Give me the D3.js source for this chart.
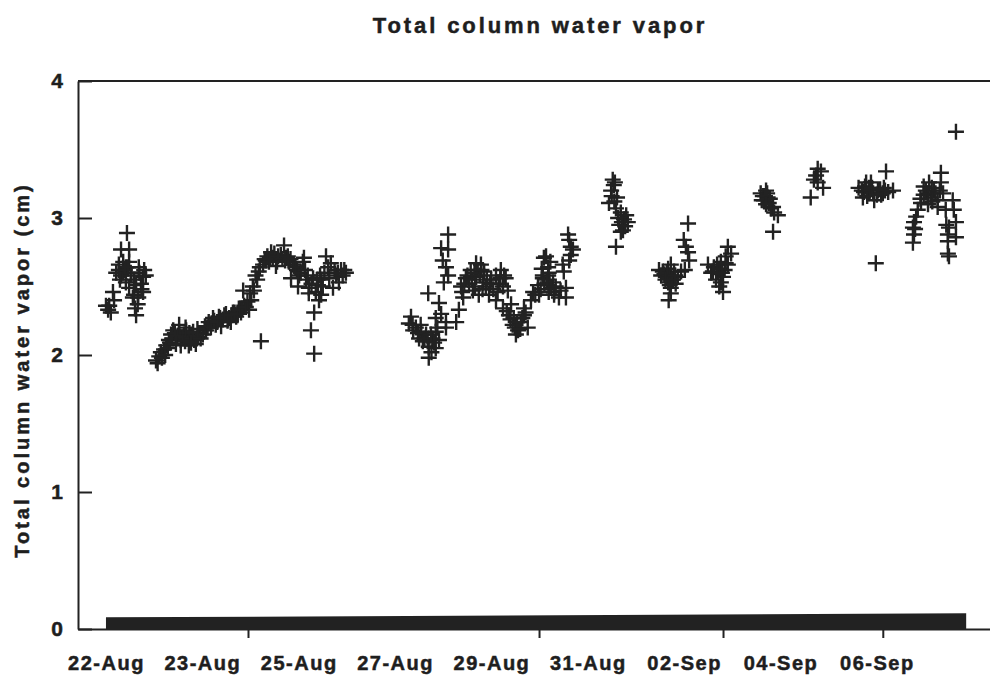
<!DOCTYPE html>
<html>
<head>
<meta charset="utf-8">
<script src="https://cdn.jsdelivr.net/npm/d3@7"></script>
<style>
  html, body { margin: 0; padding: 0; background: #fff; }
  svg { display: block; }
  text { font-family: "Liberation Sans", Arial, sans-serif; font-weight: bold; fill: #1e1e1e; stroke: #1e1e1e; stroke-width: 0.5px; }
</style>
</head>
<body>
<svg id="chart" width="990" height="677"></svg>
<script>
// Elapsed days since the first sample (22-Aug), paired with total column water vapour in cm.
const seg22Aug = [
  [0.39,2.89],[0.28,2.77],[0.43,2.77],[0.24,2.66],[0.37,2.64],[0.19,2.60],[0.28,2.58],
  [0.61,2.64],[0.69,2.57],[0.13,2.46],[0.06,2.36],[0.00,2.36],[0.09,2.31],[0.56,2.51],
  [0.52,2.44],[0.59,2.37],[0.56,2.29],[0.50,2.42],[0.37,2.53],[0.43,2.49],[0.69,2.46],
  [0.32,2.68],[0.43,2.68],[0.74,2.58],[0.65,2.52],[0.24,2.62],[0.32,2.60],[0.46,2.60],
  [0.15,2.40],[0.35,2.62],[0.41,2.64],[0.47,2.58],[0.52,2.55],[0.26,2.55],[0.62,2.60],
  [0.66,2.48],[0.60,2.42],[0.54,2.34],[0.04,2.33],[0.71,2.62]
];
const seg23to25Aug = [
  [0.93,1.96],[0.99,1.99],[1.02,2.02],[1.08,2.04],[1.12,2.07],[1.17,2.11],[1.21,2.15],
  [1.25,2.18],[1.30,2.12],[1.36,2.17],[1.39,2.11],[1.45,2.15],[1.51,2.12],[1.58,2.14],
  [1.64,2.11],[1.69,2.12],[1.73,2.16],[1.36,2.22],[1.39,2.07],[1.54,2.07],[1.67,2.08],
  [1.86,2.18],[1.91,2.24],[1.99,2.27],[2.04,2.22],[2.10,2.28],[2.17,2.26],[2.23,2.30],
  [2.29,2.27],[2.36,2.31],[2.42,2.28],[2.47,2.34],[2.51,2.31],[2.57,2.36],[2.55,2.47],
  [2.88,2.10],[2.70,2.40],[2.75,2.47],[2.81,2.55],[2.84,2.61],[2.92,2.66],[2.97,2.69],
  [3.03,2.68],[3.10,2.71],[3.18,2.68],[3.25,2.73],[3.31,2.80],[3.35,2.71],[3.40,2.68],
  [3.48,2.66],[3.55,2.62],[3.59,2.58],[3.66,2.68],[3.72,2.55],[3.77,2.49],[3.85,2.56],
  [3.90,2.46],[3.96,2.40],[3.87,2.31],[3.81,2.18],[3.87,2.01],[3.68,2.71],[4.09,2.72],
  [4.13,2.64],[4.37,2.62],[4.33,2.53],[4.22,2.49],[3.94,2.51],[3.77,2.45],[3.57,2.50],
  [3.44,2.56],[3.49,2.66],[4.00,2.44],[4.00,2.55],[4.46,2.60],[4.28,2.58],[4.18,2.67],
  [4.03,2.50],[3.07,2.75],[3.16,2.65],[2.66,2.33],[2.32,2.24],[2.14,2.21],[1.95,2.20],
  [1.49,2.18],
  [0.96,1.94],[1.04,1.98],[1.10,2.00],[1.15,2.05],[1.19,2.09],[1.23,2.12],[1.28,2.16],
  [1.33,2.14],[1.42,2.13],[1.47,2.10],[1.55,2.16],[1.60,2.12],[1.62,2.17],[1.71,2.13],
  [1.76,2.12],[1.80,2.15],[1.84,2.21],[1.89,2.20],[1.96,2.23],[2.01,2.25],[2.07,2.24],
  [2.12,2.27],[2.20,2.29],[2.26,2.25],[2.33,2.29],[2.39,2.31],[2.45,2.30],[2.49,2.33],
  [2.53,2.34],[2.60,2.35],[2.63,2.39],[2.68,2.45],[2.73,2.50],[2.78,2.58],[2.86,2.64],
  [2.95,2.70],[3.00,2.72],[3.05,2.70],[3.13,2.74],[3.20,2.72],[3.28,2.70],[3.33,2.69],
  [3.38,2.72],[3.43,2.70],[3.52,2.64],[3.62,2.60],[3.70,2.62],[3.75,2.58],[3.82,2.52],
  [3.92,2.55],[3.98,2.58],[4.06,2.60],[4.15,2.56],[4.25,2.62],[4.31,2.60],[4.40,2.58],
  [4.43,2.62],[1.30,2.08],[1.48,2.20],[1.58,2.09],[1.70,2.19]
];
const seg28to30Aug = [
  [6.36,2.88],[6.23,2.78],[6.36,2.77],[6.26,2.69],[6.32,2.64],[6.36,2.58],[6.28,2.53],
  [5.99,2.45],[6.19,2.38],[6.51,2.24],[6.32,2.24],[5.67,2.28],[5.63,2.23],[5.76,2.20],
  [5.86,2.17],[5.95,2.15],[5.89,2.10],[6.00,2.06],[6.00,1.98],[6.13,2.17],[6.19,2.11],
  [6.13,2.05],[6.32,2.20],[6.13,2.27],[5.71,2.18],[5.82,2.12],[6.07,2.12],[6.23,2.30],
  [5.70,2.22],[5.80,2.16],[5.92,2.12],[5.98,2.10],[6.04,2.15],[6.10,2.09],[6.16,2.20],
  [5.85,2.22],[6.05,2.02],
  [6.56,2.33],[6.64,2.42],[6.60,2.50],[6.69,2.56],[6.78,2.62],[6.88,2.67],[6.97,2.66],
  [7.03,2.61],[6.88,2.57],[7.01,2.53],[7.06,2.50],[6.82,2.47],[6.93,2.44],[7.12,2.44],
  [7.25,2.58],[7.34,2.62],[7.43,2.56],[7.38,2.50],[7.47,2.47],[7.25,2.40],[6.75,2.52],
  [7.16,2.55],[7.30,2.52],[6.91,2.62],
  [6.62,2.46],[6.66,2.52],[6.72,2.58],[6.80,2.55],[6.85,2.60],[6.95,2.58],[7.00,2.48],
  [7.08,2.55],[7.14,2.52],[7.20,2.48],[7.28,2.46],[7.33,2.56],[7.40,2.58],[6.86,2.50],
  [6.98,2.62],
  [7.38,2.34],[7.53,2.37],[7.49,2.29],[7.58,2.27],[7.56,2.22],[7.66,2.18],[7.62,2.15],
  [7.71,2.24],[7.77,2.29],[7.84,2.20],[7.77,2.34],
  [7.45,2.32],[7.52,2.26],[7.60,2.20],[7.64,2.24],[7.70,2.19],[7.74,2.27],[7.80,2.31],
  [7.90,2.40],[7.94,2.46],[8.03,2.51],[8.12,2.56],[8.23,2.60],[8.14,2.71],[8.22,2.64],
  [8.31,2.53],[8.05,2.44],[8.23,2.46],[8.33,2.44],[8.18,2.72],[8.12,2.58],[8.22,2.58],
  [8.23,2.51],[8.33,2.46],[8.42,2.42],[8.49,2.66],[8.51,2.61],[8.55,2.49],[8.55,2.42],
  [8.59,2.88],[8.61,2.84],[8.64,2.79],[8.68,2.77],[8.64,2.73],[8.61,2.69],
  [7.98,2.44],[8.08,2.48],[8.15,2.52],[8.20,2.55],[8.27,2.49],[8.36,2.50],[8.10,2.63],
  [8.26,2.68],[8.45,2.47]
];
const seg01to03Sep = [
  [9.42,3.28],[9.44,3.24],[9.39,3.20],[9.35,3.11],[9.48,3.07],[9.57,3.04],[9.63,2.99],
  [9.54,2.95],[9.61,2.91],[9.70,2.97],[9.48,2.79],[9.57,2.90],[9.67,3.02],[9.50,3.15],
  [9.46,3.26],[9.40,3.16],[9.45,3.12],[9.52,3.00],[9.59,2.97],[9.65,2.94],
  [10.82,2.96],[10.74,2.84],[10.78,2.79],[10.82,2.75],[10.84,2.69],[10.35,2.61],[10.45,2.63],
  [10.50,2.66],[10.56,2.61],[10.63,2.57],[10.69,2.61],[10.54,2.55],[10.45,2.53],[10.50,2.49],
  [10.50,2.45],[10.46,2.40],[10.28,2.62],[10.41,2.57],[10.59,2.52],[10.32,2.58],[10.76,2.62],
  [10.38,2.59],[10.43,2.60],[10.48,2.58],[10.52,2.55],[10.58,2.58],[10.48,2.51],[10.40,2.55],
  [11.56,2.79],[11.62,2.74],[11.52,2.72],[11.43,2.68],[11.30,2.64],[11.19,2.66],[11.38,2.61],
  [11.47,2.57],[11.43,2.53],[11.47,2.46],[11.56,2.66],[11.25,2.60],[11.34,2.55],[11.50,2.62],
  [11.28,2.61],[11.36,2.66],[11.41,2.63],[11.45,2.60],[11.52,2.67],[11.40,2.50]
];
const seg04to07Sep = [
  [12.17,3.18],[12.27,3.20],[12.23,3.13],[12.32,3.11],[12.30,3.15],[12.40,3.08],[12.42,3.04],
  [12.49,3.02],[12.40,2.90],[12.36,3.07],[12.21,3.16],[12.29,3.18],
  [12.19,3.13],[12.25,3.16],[12.34,3.14],[12.27,3.10],
  [13.23,3.36],[13.29,3.34],[13.20,3.31],[13.16,3.28],[13.23,3.26],[13.33,3.22],[13.10,3.15],
  [14.13,3.26],[14.09,3.19],[14.07,3.15],[14.18,3.22],[14.26,3.18],[14.28,3.13],[14.35,3.20],
  [14.41,3.17],[14.46,3.22],[14.54,3.19],[14.63,3.20],[14.50,3.34],[14.31,2.67],[14.22,3.26],
  [13.99,3.22],[14.18,3.18],
  [14.05,3.20],[14.11,3.23],[14.15,3.16],[14.20,3.20],[14.24,3.22],[14.33,3.17],[14.39,3.21],
  [14.44,3.18],[14.48,3.20],
  [15.80,3.63],[15.52,3.33],[15.30,3.26],[15.52,3.26],[15.20,3.23],[15.39,3.20],[15.20,3.17],
  [15.33,3.15],[15.46,3.13],[15.56,3.18],[15.15,3.11],[15.09,3.06],[15.06,3.01],[15.02,2.97],
  [15.00,2.93],[15.02,2.88],[15.00,2.82],[15.74,3.13],[15.76,3.06],[15.80,2.97],[15.67,2.93],
  [15.65,2.88],[15.65,2.83],[15.65,2.74],[15.67,2.72],[15.80,2.86],[15.61,3.06],[15.46,3.08],
  [15.24,3.20],[15.28,3.18],[15.35,3.22],[15.42,3.18],[15.28,3.10],[15.14,3.14],[15.36,3.12],
  [15.50,3.20],[15.04,2.92],[15.62,2.95]
];
// Near-zero flag series running along the whole record.
const flagSeries = [[0.00,0.085],[15.99,0.115]];

const yTicks = [0, 1, 2, 3, 4];
const dateLabels = ["22-Aug","23-Aug","25-Aug","27-Aug","29-Aug","31-Aug","02-Sep","04-Sep","06-Sep"];
const dateLabelSpan = [0, 14.33];          // days covered by the label row
const tickDays = [2.64, 8.05, 11.47, 14.44]; // major tick marks on the time axis

const W = 990, H = 677;
const margin = { top: 81, right: -2, bottom: 48, left: 78 };
const iw = W - margin.left - margin.right;
const ih = H - margin.top - margin.bottom;
const ink = "#222";

const svg = d3.select("#chart");
const g = svg.append("g").attr("transform", `translate(${margin.left},${margin.top})`);

const x = d3.scaleLinear().domain([-0.52, 16.47]).range([0, iw]);
const y = d3.scaleLinear().domain([0, 4]).range([ih, 0]);

// Title
svg.append("text")
  .attr("x", 540).attr("y", 33)
  .attr("text-anchor", "middle")
  .style("font-size", "22px").style("letter-spacing", "2.9px")
  .text("Total column water vapor");

// Y axis label
svg.append("text")
  .attr("transform", `translate(29,${margin.top + ih / 2 + 15}) rotate(-90)`)
  .attr("text-anchor", "middle")
  .style("font-size", "20px").style("letter-spacing", "3px")
  .text("Total column water vapor (cm)");

// Top frame line
g.append("line").attr("x1", 0).attr("x2", iw).attr("y1", 0).attr("y2", 0)
  .attr("stroke", ink).attr("stroke-width", 2);

// Y axis with inward ticks
const yAxis = g.append("g")
  .call(d3.axisLeft(y).tickValues(yTicks).tickFormat(d3.format("d"))
    .tickSizeInner(-14).tickSizeOuter(0).tickPadding(15));
yAxis.select(".domain").attr("stroke", ink).attr("stroke-width", 2);
yAxis.selectAll(".tick line").attr("stroke", ink).attr("stroke-width", 2);
yAxis.selectAll(".tick text").style("font-size", "21px").attr("fill", ink);

// X axis: baseline with tick marks
const xAxis = g.append("g").attr("transform", `translate(0,${ih})`)
  .call(d3.axisBottom(x).tickValues(tickDays).tickFormat("").tickSizeInner(9).tickSizeOuter(0));
xAxis.select(".domain").attr("stroke", ink).attr("stroke-width", 2);
xAxis.selectAll(".tick line").attr("stroke", ink).attr("stroke-width", 2);

// Date labels, evenly spaced along the record
const xLab = d3.scalePoint().domain(dateLabels).range(dateLabelSpan.map(x));
const labAxis = g.append("g").attr("transform", `translate(0,${ih})`)
  .call(d3.axisBottom(xLab).tickSize(0).tickPadding(27));
labAxis.select(".domain").remove();
labAxis.selectAll(".tick text").style("font-size", "20px").style("letter-spacing", "1.5px").attr("fill", ink);

// Flag series drawn as a filled band on the baseline
g.append("path")
  .datum(flagSeries)
  .attr("fill", ink)
  .attr("d", d3.area().x(d => x(d[0])).y0(y(0)).y1(d => y(d[1])));

// Water vapour samples as plus markers
const cross = "M-8,0H8M0,-8V8";
const samples = [seg22Aug, seg23to25Aug, seg28to30Aug, seg01to03Sep, seg04to07Sep];
samples.forEach((seg, i) => {
  g.append("g").attr("class", "seg seg" + i)
    .selectAll("path").data(seg).join("path")
    .attr("transform", d => `translate(${x(d[0])},${y(d[1])})`)
    .attr("d", cross)
    .attr("stroke", ink).attr("stroke-width", 2.4).attr("fill", "none");
});
</script>
</body>
</html>
